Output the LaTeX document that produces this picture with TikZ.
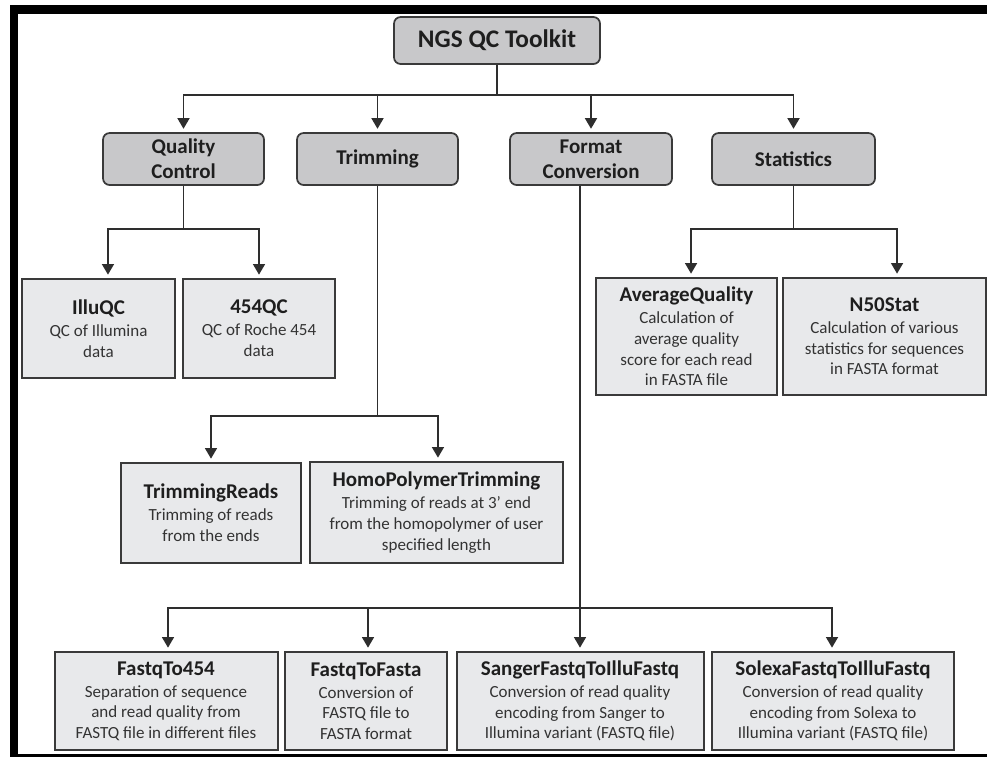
\documentclass[tikz,border=0pt]{standalone}
\usepackage{fontspec}
\setmainfont{Carlito}
\usetikzlibrary{arrows.meta}
\definecolor{lonefill}{HTML}{C8C8CA}
\definecolor{ltwofill}{HTML}{E8E9EB}
\definecolor{edgecol}{HTML}{3A3A3A}
\definecolor{txtcol}{HTML}{1E1E1E}
\definecolor{desccol}{HTML}{333333}
\newcommand{\bxttl}[1]{{\fontsize{15.75}{16.5}\selectfont\bfseries\color{txtcol}#1}}
\tikzset{
  sz/.style 2 args={minimum width=#1*0.75pt, minimum height=#2*0.75pt},
  rootbox/.style={draw=edgecol, line width=1.3pt, fill=lonefill, rounded corners=5pt,
     inner sep=0pt, align=center, text=txtcol, font=\fontsize{19}{22}\selectfont\bfseries},
  lonebox/.style={draw=edgecol, line width=1.3pt, fill=lonefill, rounded corners=5pt,
     inner sep=0pt, align=center, text=txtcol, font=\fontsize{15.75}{18.75}\selectfont\bfseries},
  ltwobox/.style={draw=edgecol, line width=1.5pt, fill=ltwofill,
     inner sep=0pt, align=center, text=desccol, font=\fontsize{12.75}{15.5}\selectfont},
  conn/.style={draw=edgecol!80!black, line width=1.3pt},
  arr/.style={conn, -{Triangle[width=9pt,length=8pt]}, shorten >=2.5pt},
}
\begin{document}
\begin{tikzpicture}[x=0.75pt, y=-0.75pt]
\useasboundingbox (0,0) rectangle (987,757);
% frame
\fill[black] (10,5) rectangle (987,14);
\fill[black] (10,5) rectangle (18,757);
\fill[black] (10,754) rectangle (987,757);

% level 0 / 1
\node[rootbox, sz={206}{47}] (root) at (497,40.5) {NGS QC Toolkit};
\node[lonebox, sz={161}{52}] (qc) at (183.5,159) {Quality\\Control};
\node[lonebox, sz={161}{52}] (trim) at (377.5,159) {Trimming};
\node[lonebox, sz={162}{52}] (fc) at (591,159) {Format\\Conversion};
\node[lonebox, sz={163}{52}] (stat) at (793.5,159) {Statistics};

% level 2
\node[ltwobox, sz={153}{99}] (illu) at (98.5,328.5) {\bxttl{IlluQC}\\[1pt]QC of Illumina\\data};
\node[ltwobox, sz={152}{99}] (q454) at (259,328.5) {\bxttl{454QC}\\[1pt]QC of Roche 454\\data};
\node[ltwobox, sz={180}{100}] (trr) at (211,513) {\bxttl{TrimmingReads}\\[1pt]Trimming of reads\\from the ends};
\node[ltwobox, sz={253}{101}] (homo) at (436.5,512.5) {\bxttl{HomoPolymerTrimming}\\[1pt]Trimming of reads at 3’ end\\from the homopolymer of user\\specified length};
\node[ltwobox, sz={181}{117}] (avg) at (686.5,336.5) {\bxttl{AverageQuality}\\[1pt]Calculation of\\average quality\\score for each read\\in FASTA file};
\node[ltwobox, sz={203}{117}] (n50) at (884.5,336.5) {\bxttl{N50Stat}\\[1pt]Calculation of various\\statistics for sequences\\in FASTA format};
\node[ltwobox, sz={223}{98}] (f454) at (166,701) {\bxttl{FastqTo454}\\[1pt]Separation of sequence\\and read quality from\\FASTQ file in different files};
\node[ltwobox, sz={162}{98}] (ffa) at (366,701) {\bxttl{FastqToFasta}\\[1pt]Conversion of\\FASTQ file to\\FASTA format};
\node[ltwobox, sz={247}{98}] (sang) at (580,701) {\bxttl{SangerFastqToIlluFastq}\\[1pt]Conversion of read quality\\encoding from Sanger to\\Illumina variant (FASTQ file)};
\node[ltwobox, sz={242}{98}] (sol) at (833,701) {\bxttl{SolexaFastqToIlluFastq}\\[1pt]Conversion of read quality\\encoding from Solexa to\\Illumina variant (FASTQ file)};

% connectors from root
\coordinate (rb) at (497,95);
\draw[conn] (root.south) -- (rb);
\draw[arr] (rb) -| (qc.north);
\draw[arr] (rb) -| (trim.north);
\draw[arr] (rb) -| (fc.north);
\draw[arr] (rb) -| (stat.north);

% quality control
\coordinate (qcb) at (183.5,229);
\draw[conn] (qc.south) -- (qcb);
\draw[arr] (qcb) -| ([xshift=7.1pt]illu.north);
\draw[arr] (qcb) -| (q454.north);

% trimming
\coordinate (trb) at (377.5,416);
\draw[conn] (trim.south) -- (trb);
\draw[arr] (trb) -| (trr.north);
\draw[arr] (trb) -| ([xshift=1.1pt]homo.north);

% statistics
\coordinate (stb) at (793.5,229);
\draw[conn] (stat.south) -- (stb);
\draw[arr] (stb) -| ([xshift=3.4pt]avg.north);
\draw[arr] (stb) -| ([xshift=9.4pt]n50.north);

% format conversion
\coordinate (fcb) at (580,608);
\draw[arr] (fc.south -| sang.north) -- (sang.north);
\draw[arr] (fcb) -| ([xshift=1.5pt]f454.north);
\draw[arr] (fcb) -| ([xshift=1.5pt]ffa.north);
\draw[arr] (fcb) -| ([xshift=-0.75pt]sol.north);
\end{tikzpicture}
\end{document}
